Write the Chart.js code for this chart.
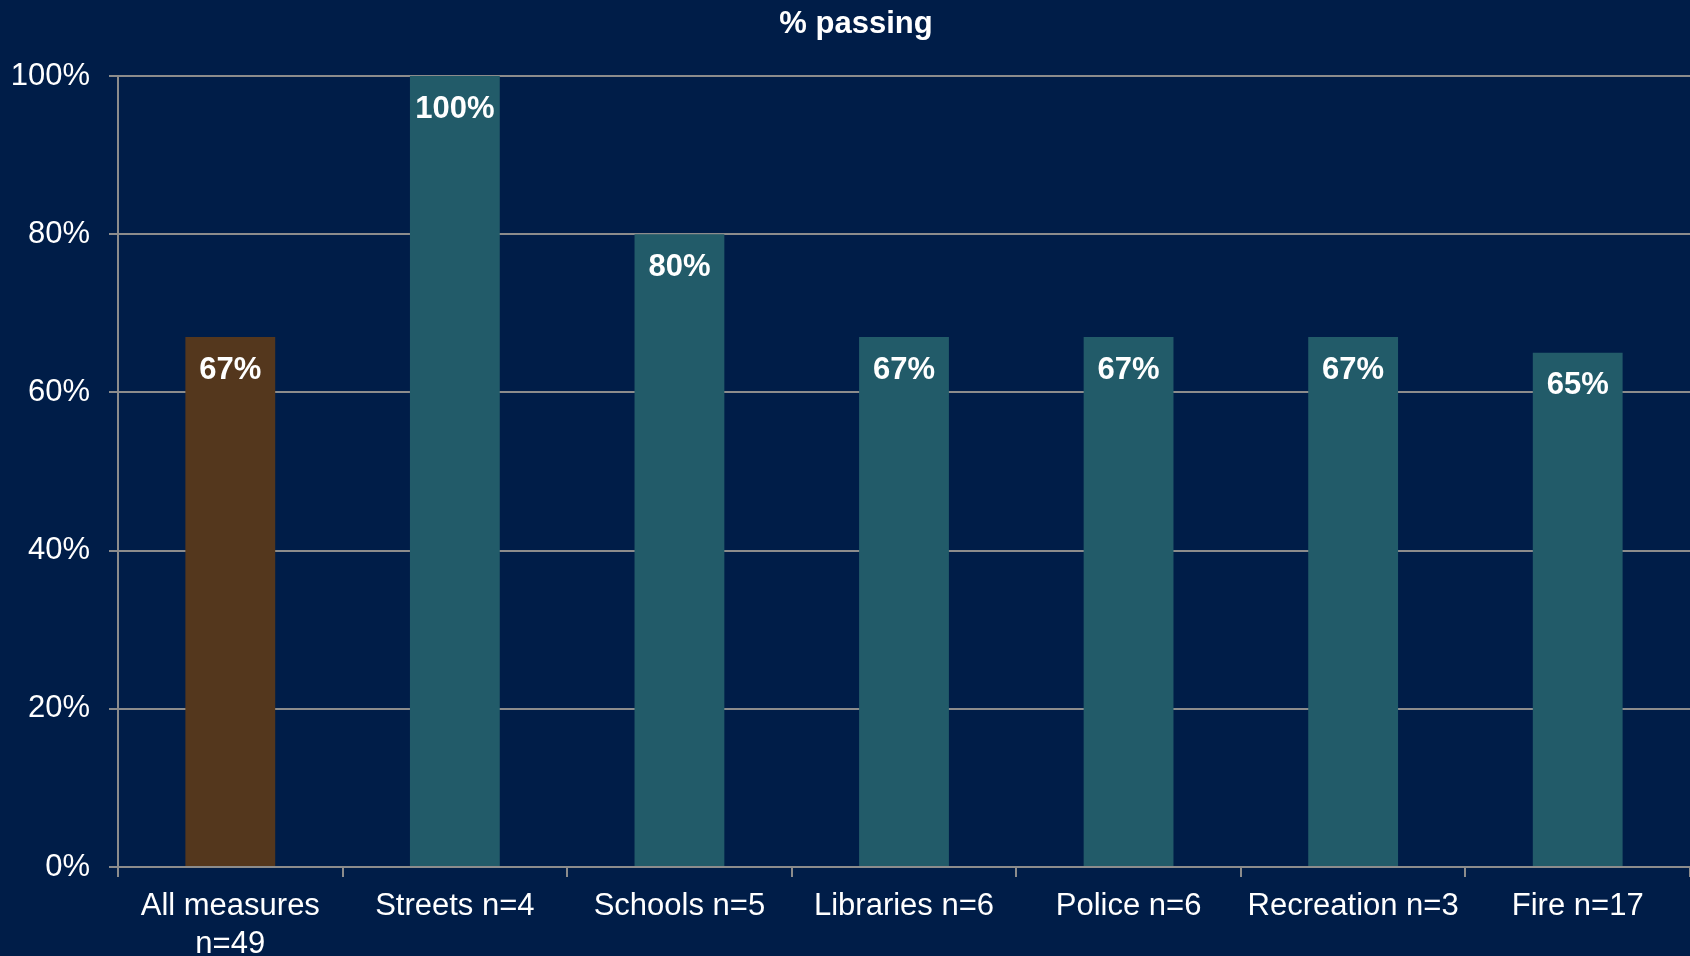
<!DOCTYPE html>
<html>
<head>
<meta charset="utf-8">
<title>% passing</title>
<script src="https://cdn.jsdelivr.net/npm/chart.js@4"></script>
<style>
    html, body { margin: 0; padding: 0; background: #001d48; }
    #wrap { width: 1690px; height: 956px; }
</style>
</head>
<body>
<div id="wrap"><canvas id="passingChart" width="1690" height="956"></canvas></div>
<script>
// Chart data
var chartTitle = '% passing';
var categories = [['All measures', 'n=49'], 'Streets n=4', 'Schools n=5', 'Libraries n=6', 'Police n=6', 'Recreation n=3', 'Fire n=17'];
var passingPct = [67, 100, 80, 67, 67, 67, 65];
var yTicks = [0, 20, 40, 60, 80, 100];

var barColors = ['#54371d', '#225b69', '#225b69', '#225b69', '#225b69', '#225b69', '#225b69'];
var gridGray = '#8c8c8c';

// Draws the value labels inside the top of each bar, plus the title
var barValueLabels = {
    id: 'barValueLabels',
    afterDatasetsDraw: function(chart) {
        var ctx = chart.ctx;
        var meta = chart.getDatasetMeta(0);
        ctx.save();
        ctx.font = 'bold 31px "Liberation Sans", Arial, sans-serif';
        ctx.fillStyle = '#ffffff';
        ctx.textAlign = 'center';
        ctx.textBaseline = 'middle';
        meta.data.forEach(function(bar, i) {
            ctx.fillText(passingPct[i] + '%', bar.x, bar.y + 33);
        });
        // title sits a little right of the page centre, like the original
        ctx.fillText(chartTitle, 856, 24);
        ctx.restore();
    }
};

document.addEventListener('DOMContentLoaded', function() {
    var canvas = document.getElementById('passingChart');
    if (!canvas) {
        console.error("Element with id 'passingChart' not found!");
        return;
    }
    Chart.defaults.font.family = '"Liberation Sans", Arial, sans-serif';
    Chart.defaults.font.size = 31;
    Chart.defaults.color = '#ffffff';

    new Chart(canvas.getContext('2d'), {
        type: 'bar',
        data: {
            labels: categories,
            datasets: [{
                data: passingPct,
                backgroundColor: barColors,
                borderWidth: 0,
                barPercentage: 0.4,
                categoryPercentage: 1.0
            }]
        },
        options: {
            responsive: false,
            animation: false,
            layout: { padding: { top: 76, left: 0, right: 0, bottom: 0 } },
            plugins: {
                legend: { display: false },
                tooltip: { enabled: false },
                title: { display: false }
            },
            scales: {
                x: {
                    offset: true,
                    grid: {
                        offset: true,
                        drawOnChartArea: false,
                        drawTicks: true,
                        tickLength: 10,
                        color: gridGray,
                        lineWidth: 2
                    },
                    border: { color: gridGray, width: 2 },
                    ticks: {
                        color: '#ffffff',
                        font: { size: 31, lineHeight: 1.22 },
                        padding: 11,
                        maxRotation: 0,
                        autoSkip: false
                    },
                    afterFit: function(scale) { scale.height = 89; }
                },
                y: {
                    min: 0,
                    max: 100,
                    afterBuildTicks: function(scale) {
                        scale.ticks = yTicks.map(function(v) { return { value: v }; });
                    },
                    grid: {
                        color: gridGray,
                        lineWidth: 2,
                        tickLength: 9
                    },
                    border: { color: gridGray, width: 2 },
                    ticks: {
                        color: '#ffffff',
                        font: { size: 31 },
                        padding: 19,
                        callback: function(v) { return v + '%'; }
                    },
                    afterFit: function(scale) { scale.width = 118; }
                }
            }
        },
        plugins: [barValueLabels]
    });
});
</script>
</body>
</html>
